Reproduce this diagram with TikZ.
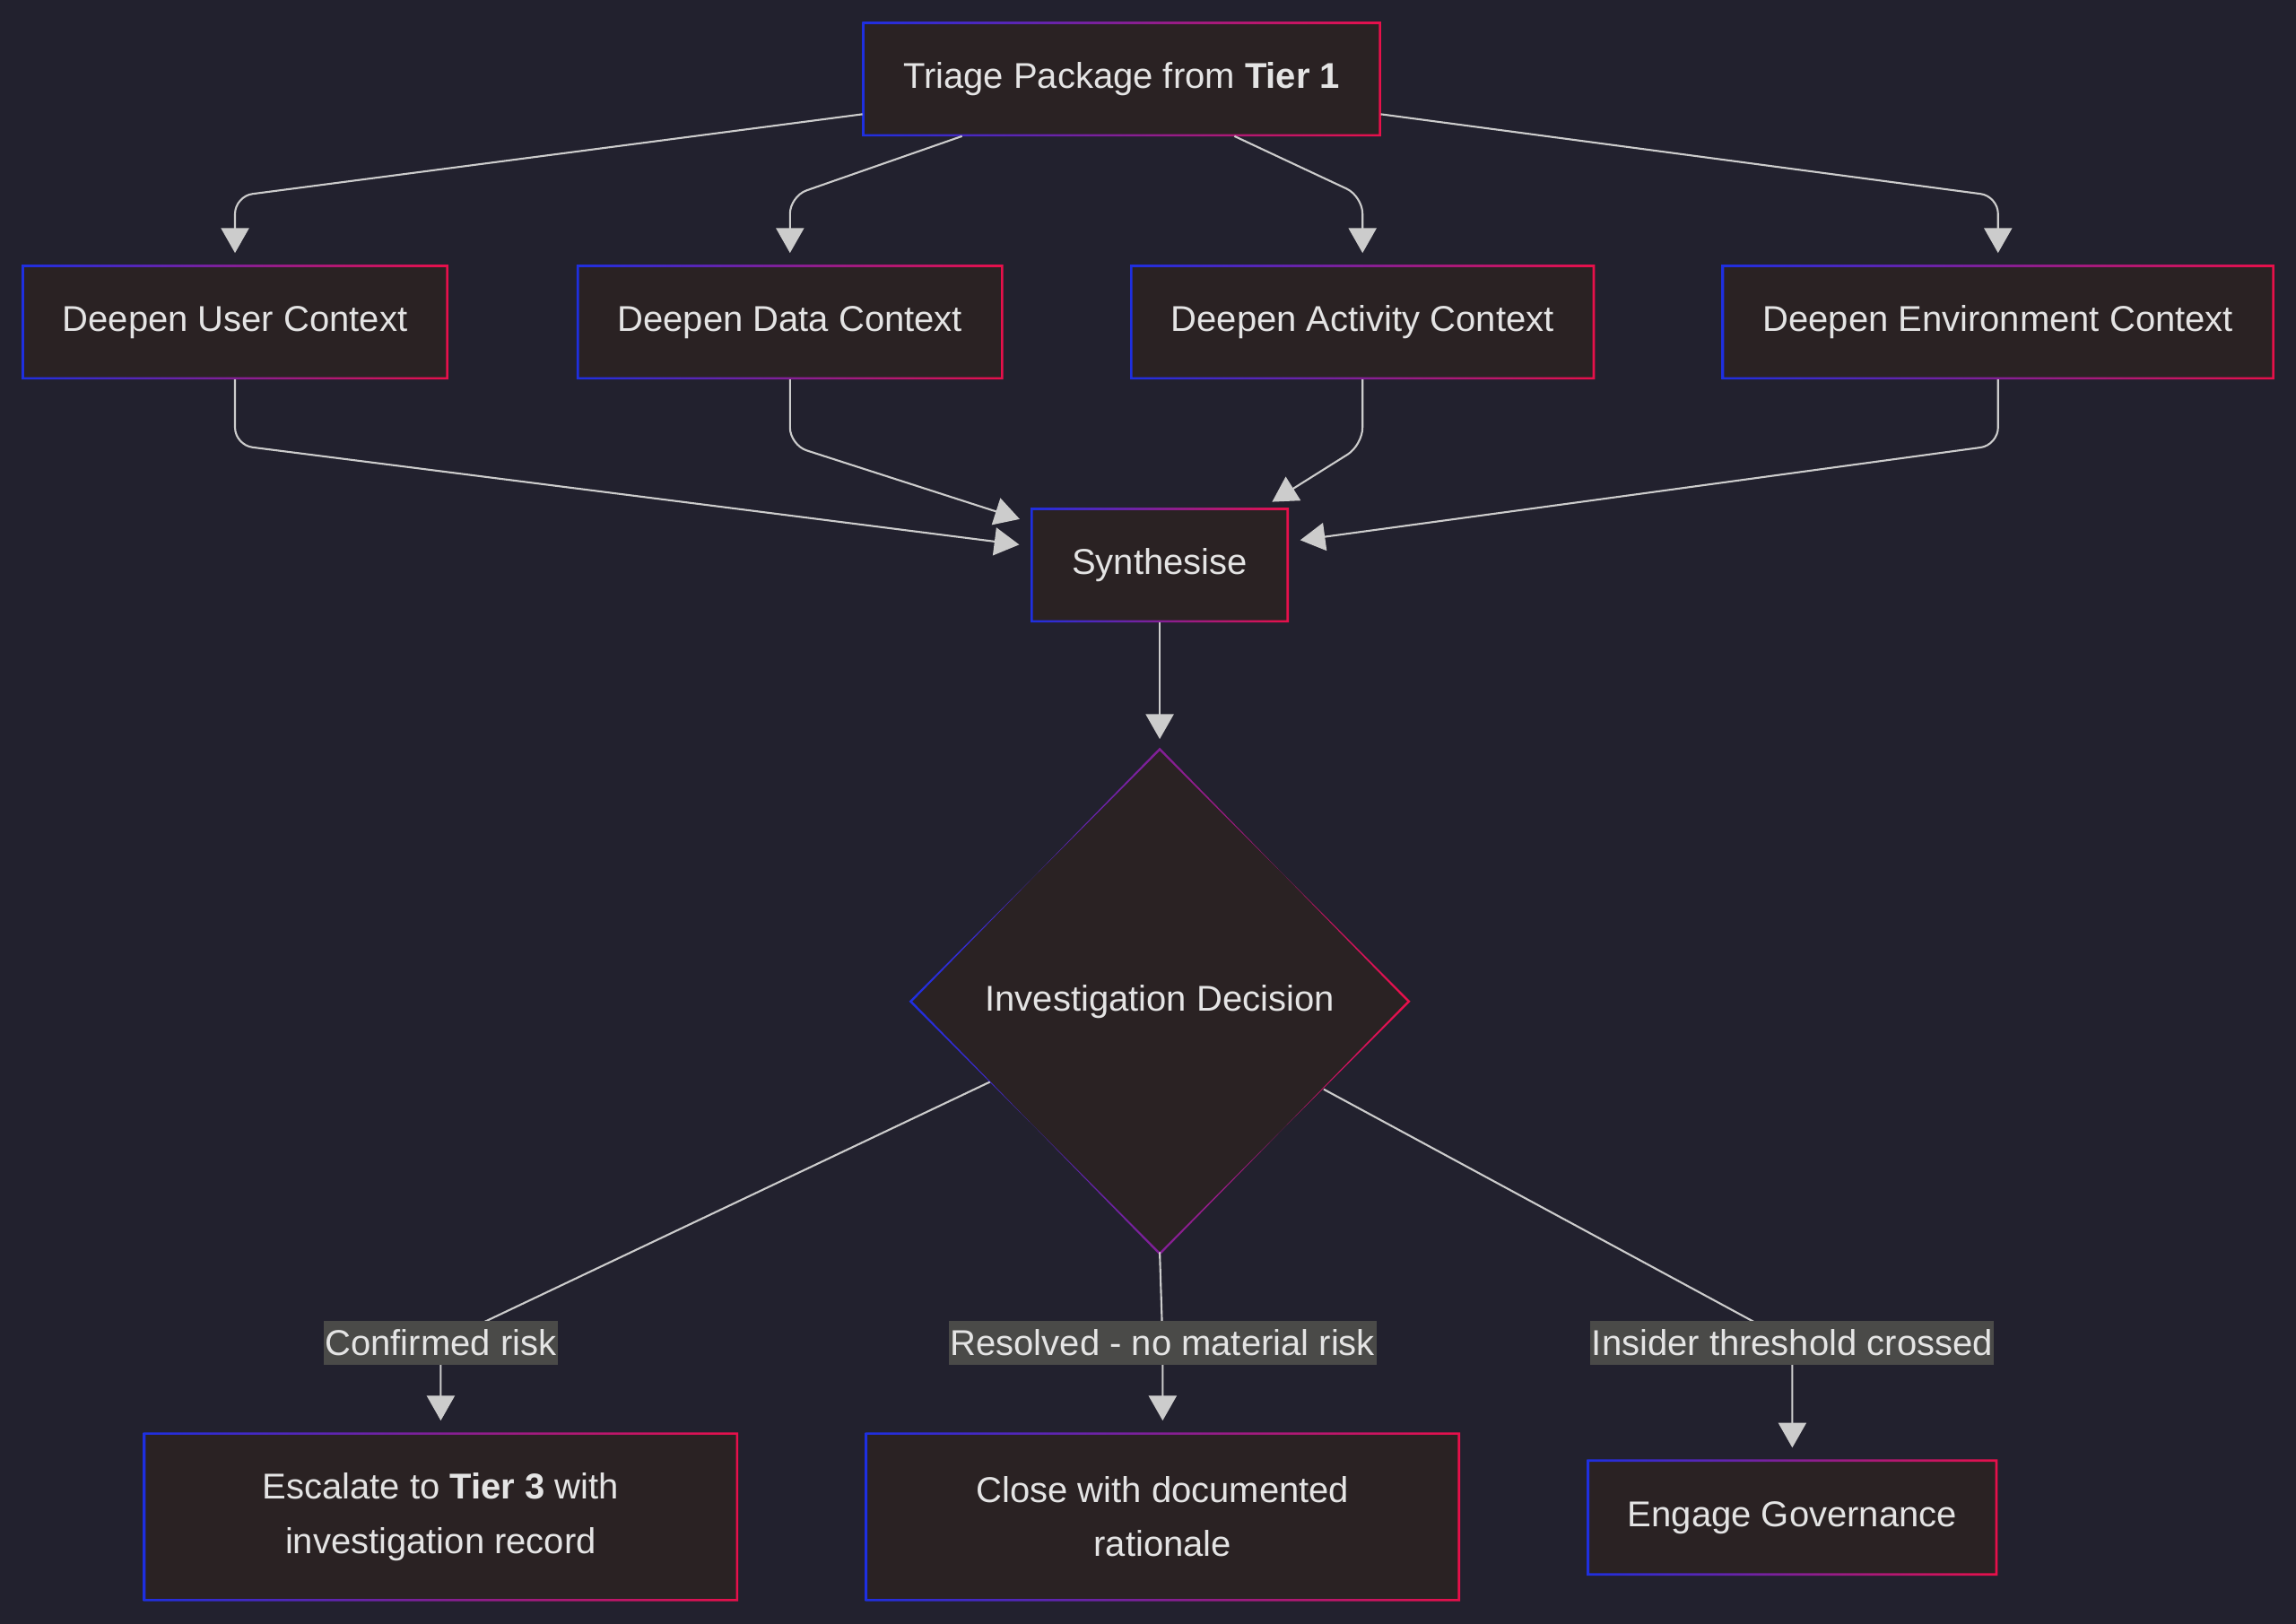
\documentclass[tikz,border=0pt]{standalone}
\usepackage{fontspec}
\setmainfont{Liberation Sans}
\usetikzlibrary{shapes.geometric,arrows.meta}
\definecolor{bg}{HTML}{22212E}
\definecolor{boxfill}{HTML}{2A2223}
\definecolor{bl}{HTML}{1E2FE0}
\definecolor{rd}{HTML}{E8104A}
\definecolor{txt}{HTML}{E4E4E4}
\definecolor{ln}{HTML}{CCCCCC}
\definecolor{lblbg}{HTML}{4A4A48}
\newcommand\gframe[1]{\shade[even odd rule,left color=bl,right color=rd]
 (#1.south west) rectangle (#1.north east)
 ([shift={(1.6,-1.6)}]#1.south west) rectangle ([shift={(-1.6,1.6)}]#1.north east);}
\begin{document}
\begin{tikzpicture}[x=1pt,y=-1pt,
 every node/.style={font=\fontsize{24.5}{37}\selectfont,text=txt},
 gbox/.style={fill=boxfill,inner sep=0pt,align=center},
 lbl/.style={fill=lblbg,inner xsep=1pt,inner ysep=6pt,text=txt,font=\fontsize{24.5}{26}\selectfont},
 conn/.style={draw=ln,line width=1.3pt,rounded corners=12pt,shorten >=8pt,-{Triangle[length=17pt,width=19pt]}},
 plain/.style={draw=ln,line width=1.3pt}]
\fill[bg] (0,0) rectangle (1568,1109);
\useasboundingbox (0,0) rectangle (1568,1109);
% nodes
\node[gbox,minimum width=354pt,minimum height=78pt] (tri) at (766,54) {Triage Package from \textbf{Tier 1}};
\node[gbox,minimum width=291pt,minimum height=78pt] (usr) at (160.5,220) {Deepen User Context};
\node[gbox,minimum width=291pt,minimum height=78pt] (dat) at (539.5,220) {Deepen Data Context};
\node[gbox,minimum width=317pt,minimum height=78pt] (act) at (930.5,220) {Deepen Activity Context};
\node[gbox,minimum width=377pt,minimum height=78pt] (env) at (1364.5,220) {Deepen Environment Context};
\node[gbox,minimum width=176pt,minimum height=78pt] (syn) at (792,386) {Synthesise};
\node[diamond,aspect=1,fill=boxfill,minimum size=342pt,inner sep=0pt] (dec) at (792,684) {};
\node at (792,684) {Investigation Decision};
\node[gbox,minimum width=406pt,minimum height=115pt] (esc) at (301,1036) {Escalate to \textbf{Tier 3} with\\investigation record};
\node[gbox,minimum width=406pt,minimum height=115pt] (clo) at (794,1036) {Close with documented\\rationale};
\node[gbox,minimum width=280pt,minimum height=79pt] (eng) at (1224,1036.5) {Engage Governance};
\foreach \n in {tri,usr,dat,act,env,syn,esc,clo,eng} {\gframe{\n}}
\shade[even odd rule,left color=bl,right color=rd]
 (dec.north) -- (dec.east) -- (dec.south) -- (dec.west) -- cycle
 ([yshift=2.2]dec.north) -- ([xshift=-2.2]dec.east) -- ([yshift=-2.2]dec.south) -- ([xshift=2.2]dec.west) -- cycle;
% connectors
\coordinate (t1) at (589,78); \coordinate (t2) at (657,93);
\coordinate (t3) at (843,93); \coordinate (t4) at (943,78);
\draw[conn] (t1) -- (160.5,134) -- (usr.north);
\draw[conn] (t2) -- (539.5,134) -- (dat.north);
\draw[conn] (t3) -- (930.5,134) -- (act.north);
\draw[conn] (t4) -- (1364.5,134) -- (env.north);
\coordinate (s1) at (704,373); \coordinate (s2) at (704,357);
\coordinate (s3) at (862,347); \coordinate (s4) at (880,370);
\draw[conn] (usr.south) -- (160.5,304) -- (s1);
\draw[conn] (dat.south) -- (539.5,304) -- (s2);
\draw[conn] (act.south) -- (930.5,304) -- (s3);
\draw[conn] (env.south) -- (1364.5,304) -- (s4);
\draw[conn] (syn.south) -- (dec.north);
\coordinate (d1) at (676,739); \coordinate (d3) at (904,744);
\draw[conn,rounded corners=0pt] (d1) -- (301,917) -- (esc.north);
\draw[conn,rounded corners=0pt] (dec.south) -- (794,917) -- (clo.north);
\draw[conn,rounded corners=0pt] (d3) -- (1224,917) -- (eng.north);
\node[lbl] (l1) at (301,917) {Confirmed risk};
\node[lbl] (l2) at (794,917) {Resolved - no material risk};
\node[lbl] (l3) at (1224,917) {Insider threshold crossed};
\end{tikzpicture}
\end{document}
